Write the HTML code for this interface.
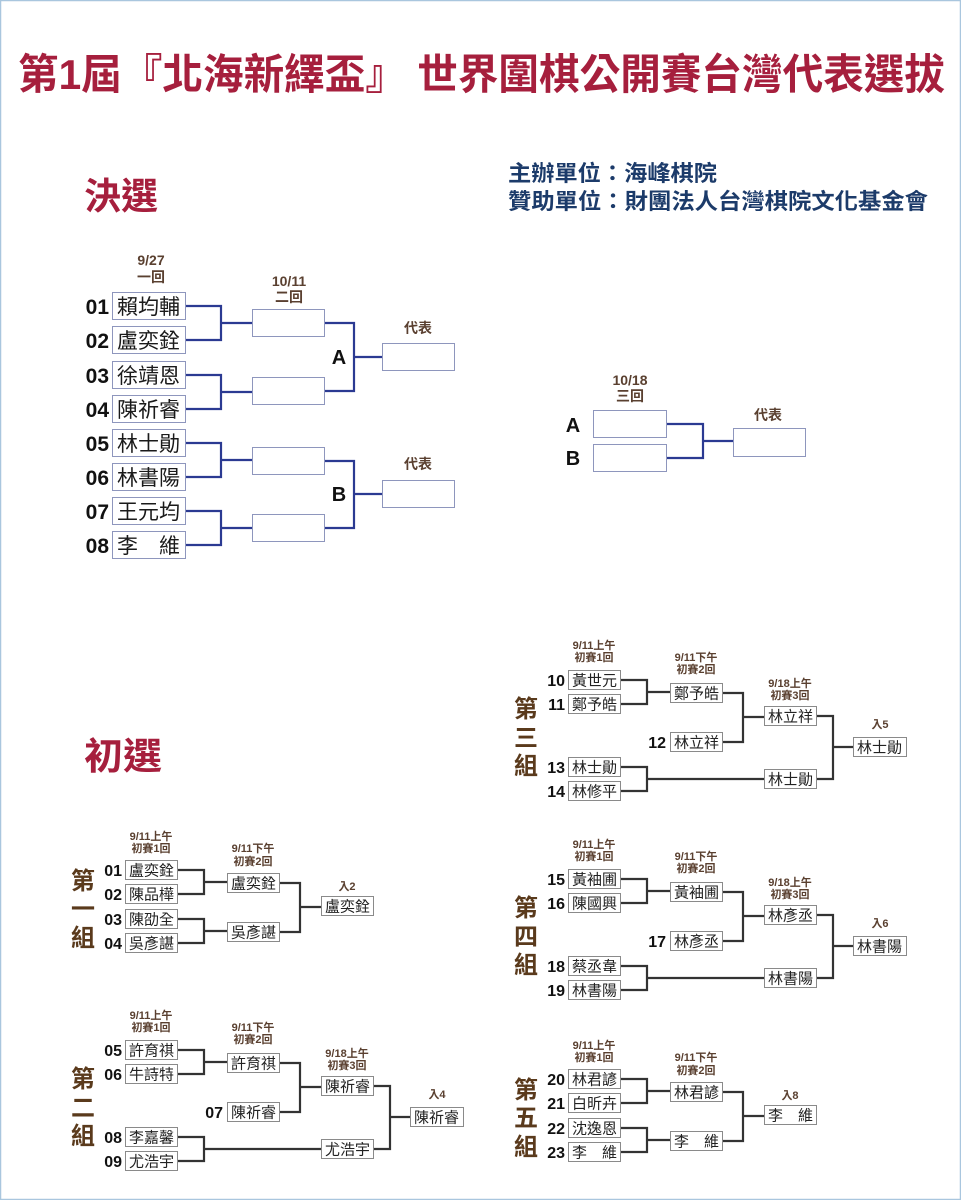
<!DOCTYPE html>
<html><head><meta charset="utf-8"><style>
html,body{margin:0;padding:0;background:#fff}
svg{display:block}
.t{font-family:"Liberation Sans","Noto Sans CJK TC",sans-serif}
.lb{font-family:"Liberation Sans","Noto Sans CJK TC",sans-serif;font-weight:bold;font-size:11px;fill:#5a4030;text-anchor:middle}
.fl{font-family:"Liberation Sans","Noto Sans CJK TC",sans-serif;font-weight:bold;font-size:14px;fill:#5a4030;text-anchor:middle}
.nm{font-family:"Liberation Sans","Noto Sans CJK TC",sans-serif;font-size:15px;fill:#222}
.fn{font-family:"Liberation Sans","Noto Sans CJK TC",sans-serif;font-size:21px;fill:#1a1a1a}
.no{font-family:"Liberation Sans",sans-serif;font-weight:bold;font-size:16px;fill:#111;text-anchor:end}
.fno{font-family:"Liberation Sans",sans-serif;font-weight:bold;font-size:21px;fill:#111;text-anchor:end}
.ab{font-family:"Liberation Sans",sans-serif;font-weight:bold;font-size:20px;fill:#111;text-anchor:middle}
.vt{font-family:"Liberation Sans","Noto Sans CJK TC",sans-serif;font-weight:bold;font-size:24px;fill:#5a3a1c;text-anchor:middle}
.pb{fill:#fff;stroke:#8a8a8a;stroke-width:1}
.fb{fill:#fff;stroke:#8e96bd;stroke-width:1}
.pl{fill:none;stroke:#333;stroke-width:2.2}
.bl{fill:none;stroke:#2b3a92;stroke-width:2.2}
</style></head><body>
<svg width="961" height="1200" viewBox="0 0 961 1200" xmlns="http://www.w3.org/2000/svg">
<rect x="0.5" y="0.5" width="960" height="1199" fill="#fff" stroke="#a9c6de" stroke-width="1.5"/>

<!-- Title -->
<text class="t" x="18" y="89" font-size="42" font-weight="bold" fill="#a61f3d" textLength="927" lengthAdjust="spacingAndGlyphs">第1屆『北海新繹盃』 世界圍棋公開賽台灣代表選拔</text>

<text class="t" x="84" y="209" font-size="37" font-weight="bold" fill="#a61f3d" textLength="74" lengthAdjust="spacingAndGlyphs">決選</text>
<text class="t" x="84" y="769" font-size="37" font-weight="bold" fill="#a61f3d" textLength="78" lengthAdjust="spacingAndGlyphs">初選</text>

<text class="t" x="508" y="181" font-size="22" font-weight="bold" fill="#1c3b6a" textLength="209" lengthAdjust="spacingAndGlyphs">主辦單位：海峰棋院</text>
<text class="t" x="508" y="209" font-size="22" font-weight="bold" fill="#1c3b6a" textLength="420" lengthAdjust="spacingAndGlyphs">贊助單位：財團法人台灣棋院文化基金會</text>

<!-- Final bracket -->
<text class="fl" x="151" y="265">9/27</text>
<text class="fl" x="151" y="282">一回</text>
<text class="fl" x="289" y="286">10/11</text>
<text class="fl" x="289" y="302">二回</text>
<text class="fl" x="418" y="333">代表</text>
<text class="fl" x="418" y="469">代表</text>

<path class="bl" d="M186 306H221V340H186M221 323H252 M186 375H221V409H186M221 392H252 M186 443H221V477H186M221 460H252 M186 511H221V545H186M221 528H252 M325 323H354V391H325M354 357H382 M325 461H354V528H325M354 494H382"/>

<rect class="fb" x="112.5" y="292.5" width="73" height="27"/>
<rect class="fb" x="112.5" y="326.5" width="73" height="27"/>
<rect class="fb" x="112.5" y="361.5" width="73" height="27"/>
<rect class="fb" x="112.5" y="395.5" width="73" height="27"/>
<rect class="fb" x="112.5" y="429.5" width="73" height="27"/>
<rect class="fb" x="112.5" y="463.5" width="73" height="27"/>
<rect class="fb" x="112.5" y="497.5" width="73" height="27"/>
<rect class="fb" x="112.5" y="531.5" width="73" height="27"/>

<text class="fno" x="109" y="314">01</text>
<text class="fno" x="109" y="348">02</text>
<text class="fno" x="109" y="383">03</text>
<text class="fno" x="109" y="417">04</text>
<text class="fno" x="109" y="451">05</text>
<text class="fno" x="109" y="485">06</text>
<text class="fno" x="109" y="519">07</text>
<text class="fno" x="109" y="553">08</text>

<text class="fn" x="117" y="314">賴均輔</text>
<text class="fn" x="117" y="348">盧奕銓</text>
<text class="fn" x="117" y="383">徐靖恩</text>
<text class="fn" x="117" y="417">陳祈睿</text>
<text class="fn" x="117" y="451">林士勛</text>
<text class="fn" x="117" y="485">林書陽</text>
<text class="fn" x="117" y="519">王元均</text>
<text class="fn" x="117" y="553">李　維</text>

<rect class="fb" x="252.5" y="309.5" width="72" height="27"/>
<rect class="fb" x="252.5" y="377.5" width="72" height="27"/>
<rect class="fb" x="252.5" y="447.5" width="72" height="27"/>
<rect class="fb" x="252.5" y="514.5" width="72" height="27"/>
<rect class="fb" x="382.5" y="343.5" width="72" height="27"/>
<rect class="fb" x="382.5" y="480.5" width="72" height="27"/>

<text class="ab" x="339" y="364">A</text>
<text class="ab" x="339" y="501">B</text>

<!-- Right final -->
<text class="fl" x="630" y="385">10/18</text>
<text class="fl" x="630" y="401">三回</text>
<text class="fl" x="768" y="420">代表</text>
<path class="bl" d="M667 424H703V458H667M703 441H733"/>
<rect class="fb" x="593.5" y="410.5" width="73" height="27"/>
<rect class="fb" x="593.5" y="444.5" width="73" height="27"/>
<rect class="fb" x="733.5" y="428.5" width="72" height="28"/>
<text class="ab" x="573" y="432" font-size="21">A</text>
<text class="ab" x="573" y="465" font-size="21">B</text>

<!-- Group 1 -->
<g>
<text class="lb" x="151" y="840">9/11上午</text>
<text class="lb" x="151" y="852">初賽1回</text>
<text class="lb" x="253" y="852">9/11下午</text>
<text class="lb" x="253" y="865">初賽2回</text>
<text class="lb" x="347" y="890">入2</text>
<path class="pl" d="M177 870H204V894H177M204 882H227 M177 919H204V943H177M204 931H227 M279 883H300V932H279M300 907H321"/>
<rect class="pb" x="125.5" y="860.5" width="52" height="19"/>
<rect class="pb" x="125.5" y="884.5" width="52" height="19"/>
<rect class="pb" x="125.5" y="909.5" width="52" height="19"/>
<rect class="pb" x="125.5" y="933.5" width="52" height="19"/>
<rect class="pb" x="227.5" y="873.5" width="52" height="19"/>
<rect class="pb" x="227.5" y="922.5" width="52" height="19"/>
<rect class="pb" x="321.5" y="896.5" width="52" height="19"/>
<text class="no" x="122" y="876">01</text>
<text class="no" x="122" y="900">02</text>
<text class="no" x="122" y="925">03</text>
<text class="no" x="122" y="949">04</text>
<text class="nm" x="129" y="875.5">盧奕銓</text>
<text class="nm" x="129" y="899.5">陳品樺</text>
<text class="nm" x="129" y="924.5">陳劭全</text>
<text class="nm" x="129" y="948.5">吳彥諶</text>
<text class="nm" x="231" y="888.5">盧奕銓</text>
<text class="nm" x="231" y="937.5">吳彥諶</text>
<text class="nm" x="325" y="911.5">盧奕銓</text>
<text class="vt" x="83" y="889">第</text>
<text class="vt" x="83" y="917">一</text>
<text class="vt" x="83" y="946">組</text>
</g>

<!-- Group 5 -->
<g transform="translate(443,209)">
<text class="lb" x="151" y="840">9/11上午</text>
<text class="lb" x="151" y="852">初賽1回</text>
<text class="lb" x="253" y="852">9/11下午</text>
<text class="lb" x="253" y="865">初賽2回</text>
<text class="lb" x="347" y="890">入8</text>
<path class="pl" d="M177 870H204V894H177M204 882H227 M177 919H204V943H177M204 931H227 M279 883H300V932H279M300 907H321"/>
<rect class="pb" x="125.5" y="860.5" width="52" height="19"/>
<rect class="pb" x="125.5" y="884.5" width="52" height="19"/>
<rect class="pb" x="125.5" y="909.5" width="52" height="19"/>
<rect class="pb" x="125.5" y="933.5" width="52" height="19"/>
<rect class="pb" x="227.5" y="873.5" width="52" height="19"/>
<rect class="pb" x="227.5" y="922.5" width="52" height="19"/>
<rect class="pb" x="321.5" y="896.5" width="52" height="19"/>
<text class="no" x="122" y="876">20</text>
<text class="no" x="122" y="900">21</text>
<text class="no" x="122" y="925">22</text>
<text class="no" x="122" y="949">23</text>
<text class="nm" x="129" y="875.5">林君諺</text>
<text class="nm" x="129" y="899.5">白昕卉</text>
<text class="nm" x="129" y="924.5">沈逸恩</text>
<text class="nm" x="129" y="948.5">李　維</text>
<text class="nm" x="231" y="888.5">林君諺</text>
<text class="nm" x="231" y="937.5">李　維</text>
<text class="nm" x="325" y="911.5">李　維</text>
<text class="vt" x="83" y="889">第</text>
<text class="vt" x="83" y="917">五</text>
<text class="vt" x="83" y="946">組</text>
</g>

<!-- Group 2 -->
<g>
<text class="lb" x="151" y="1019">9/11上午</text>
<text class="lb" x="151" y="1031">初賽1回</text>
<text class="lb" x="253" y="1031">9/11下午</text>
<text class="lb" x="253" y="1043">初賽2回</text>
<text class="lb" x="347" y="1057">9/18上午</text>
<text class="lb" x="347" y="1069">初賽3回</text>
<text class="lb" x="437" y="1098">入4</text>
<path class="pl" d="M177 1050H204V1074H177M204 1062H227 M279 1063H300V1112H279M300 1087H321 M177 1137H204V1161H177M204 1149H321 M373 1086H390V1149H373M390 1117H410"/>
<rect class="pb" x="125.5" y="1040.5" width="52" height="19"/>
<rect class="pb" x="125.5" y="1064.5" width="52" height="19"/>
<rect class="pb" x="227.5" y="1053.5" width="52" height="19"/>
<rect class="pb" x="227.5" y="1102.5" width="52" height="19"/>
<rect class="pb" x="321.5" y="1076.5" width="52" height="19"/>
<rect class="pb" x="125.5" y="1127.5" width="52" height="19"/>
<rect class="pb" x="125.5" y="1151.5" width="52" height="19"/>
<rect class="pb" x="321.5" y="1139.5" width="52" height="19"/>
<rect class="pb" x="410.5" y="1107.5" width="53" height="19"/>
<text class="no" x="122" y="1056">05</text>
<text class="no" x="122" y="1080">06</text>
<text class="no" x="223" y="1118">07</text>
<text class="no" x="122" y="1143">08</text>
<text class="no" x="122" y="1167">09</text>
<text class="nm" x="129" y="1055.5">許育祺</text>
<text class="nm" x="129" y="1079.5">牛詩特</text>
<text class="nm" x="231" y="1068.5">許育祺</text>
<text class="nm" x="231" y="1117.5">陳祈睿</text>
<text class="nm" x="325" y="1091.5">陳祈睿</text>
<text class="nm" x="129" y="1142.5">李嘉馨</text>
<text class="nm" x="129" y="1166.5">尤浩宇</text>
<text class="nm" x="325" y="1154.5">尤浩宇</text>
<text class="nm" x="414" y="1122.5">陳祈睿</text>
<text class="vt" x="83" y="1087">第</text>
<text class="vt" x="83" y="1116">二</text>
<text class="vt" x="83" y="1144">組</text>
</g>

<!-- Group 3 -->
<g transform="translate(443,-370)">
<text class="lb" x="151" y="1019">9/11上午</text>
<text class="lb" x="151" y="1031">初賽1回</text>
<text class="lb" x="253" y="1031">9/11下午</text>
<text class="lb" x="253" y="1043">初賽2回</text>
<text class="lb" x="347" y="1057">9/18上午</text>
<text class="lb" x="347" y="1069">初賽3回</text>
<text class="lb" x="437" y="1098">入5</text>
<path class="pl" d="M177 1050H204V1074H177M204 1062H227 M279 1063H300V1112H279M300 1087H321 M177 1137H204V1161H177M204 1149H321 M373 1086H390V1149H373M390 1117H410"/>
<rect class="pb" x="125.5" y="1040.5" width="52" height="19"/>
<rect class="pb" x="125.5" y="1064.5" width="52" height="19"/>
<rect class="pb" x="227.5" y="1053.5" width="52" height="19"/>
<rect class="pb" x="227.5" y="1102.5" width="52" height="19"/>
<rect class="pb" x="321.5" y="1076.5" width="52" height="19"/>
<rect class="pb" x="125.5" y="1127.5" width="52" height="19"/>
<rect class="pb" x="125.5" y="1151.5" width="52" height="19"/>
<rect class="pb" x="321.5" y="1139.5" width="52" height="19"/>
<rect class="pb" x="410.5" y="1107.5" width="53" height="19"/>
<text class="no" x="122" y="1056">10</text>
<text class="no" x="122" y="1080">11</text>
<text class="no" x="223" y="1118">12</text>
<text class="no" x="122" y="1143">13</text>
<text class="no" x="122" y="1167">14</text>
<text class="nm" x="129" y="1055.5">黃世元</text>
<text class="nm" x="129" y="1079.5">鄭予皓</text>
<text class="nm" x="231" y="1068.5">鄭予皓</text>
<text class="nm" x="231" y="1117.5">林立祥</text>
<text class="nm" x="325" y="1091.5">林立祥</text>
<text class="nm" x="129" y="1142.5">林士勛</text>
<text class="nm" x="129" y="1166.5">林修平</text>
<text class="nm" x="325" y="1154.5">林士勛</text>
<text class="nm" x="414" y="1122.5">林士勛</text>
<text class="vt" x="83" y="1087">第</text>
<text class="vt" x="83" y="1116">三</text>
<text class="vt" x="83" y="1144">組</text>
</g>

<!-- Group 4 -->
<g transform="translate(443,-171)">
<text class="lb" x="151" y="1019">9/11上午</text>
<text class="lb" x="151" y="1031">初賽1回</text>
<text class="lb" x="253" y="1031">9/11下午</text>
<text class="lb" x="253" y="1043">初賽2回</text>
<text class="lb" x="347" y="1057">9/18上午</text>
<text class="lb" x="347" y="1069">初賽3回</text>
<text class="lb" x="437" y="1098">入6</text>
<path class="pl" d="M177 1050H204V1074H177M204 1062H227 M279 1063H300V1112H279M300 1087H321 M177 1137H204V1161H177M204 1149H321 M373 1086H390V1149H373M390 1117H410"/>
<rect class="pb" x="125.5" y="1040.5" width="52" height="19"/>
<rect class="pb" x="125.5" y="1064.5" width="52" height="19"/>
<rect class="pb" x="227.5" y="1053.5" width="52" height="19"/>
<rect class="pb" x="227.5" y="1102.5" width="52" height="19"/>
<rect class="pb" x="321.5" y="1076.5" width="52" height="19"/>
<rect class="pb" x="125.5" y="1127.5" width="52" height="19"/>
<rect class="pb" x="125.5" y="1151.5" width="52" height="19"/>
<rect class="pb" x="321.5" y="1139.5" width="52" height="19"/>
<rect class="pb" x="410.5" y="1107.5" width="53" height="19"/>
<text class="no" x="122" y="1056">15</text>
<text class="no" x="122" y="1080">16</text>
<text class="no" x="223" y="1118">17</text>
<text class="no" x="122" y="1143">18</text>
<text class="no" x="122" y="1167">19</text>
<text class="nm" x="129" y="1055.5">黃袖圃</text>
<text class="nm" x="129" y="1079.5">陳國興</text>
<text class="nm" x="231" y="1068.5">黃袖圃</text>
<text class="nm" x="231" y="1117.5">林彥丞</text>
<text class="nm" x="325" y="1091.5">林彥丞</text>
<text class="nm" x="129" y="1142.5">蔡丞韋</text>
<text class="nm" x="129" y="1166.5">林書陽</text>
<text class="nm" x="325" y="1154.5">林書陽</text>
<text class="nm" x="414" y="1122.5">林書陽</text>
<text class="vt" x="83" y="1087">第</text>
<text class="vt" x="83" y="1116">四</text>
<text class="vt" x="83" y="1144">組</text>
</g>
</svg>
</body></html>
